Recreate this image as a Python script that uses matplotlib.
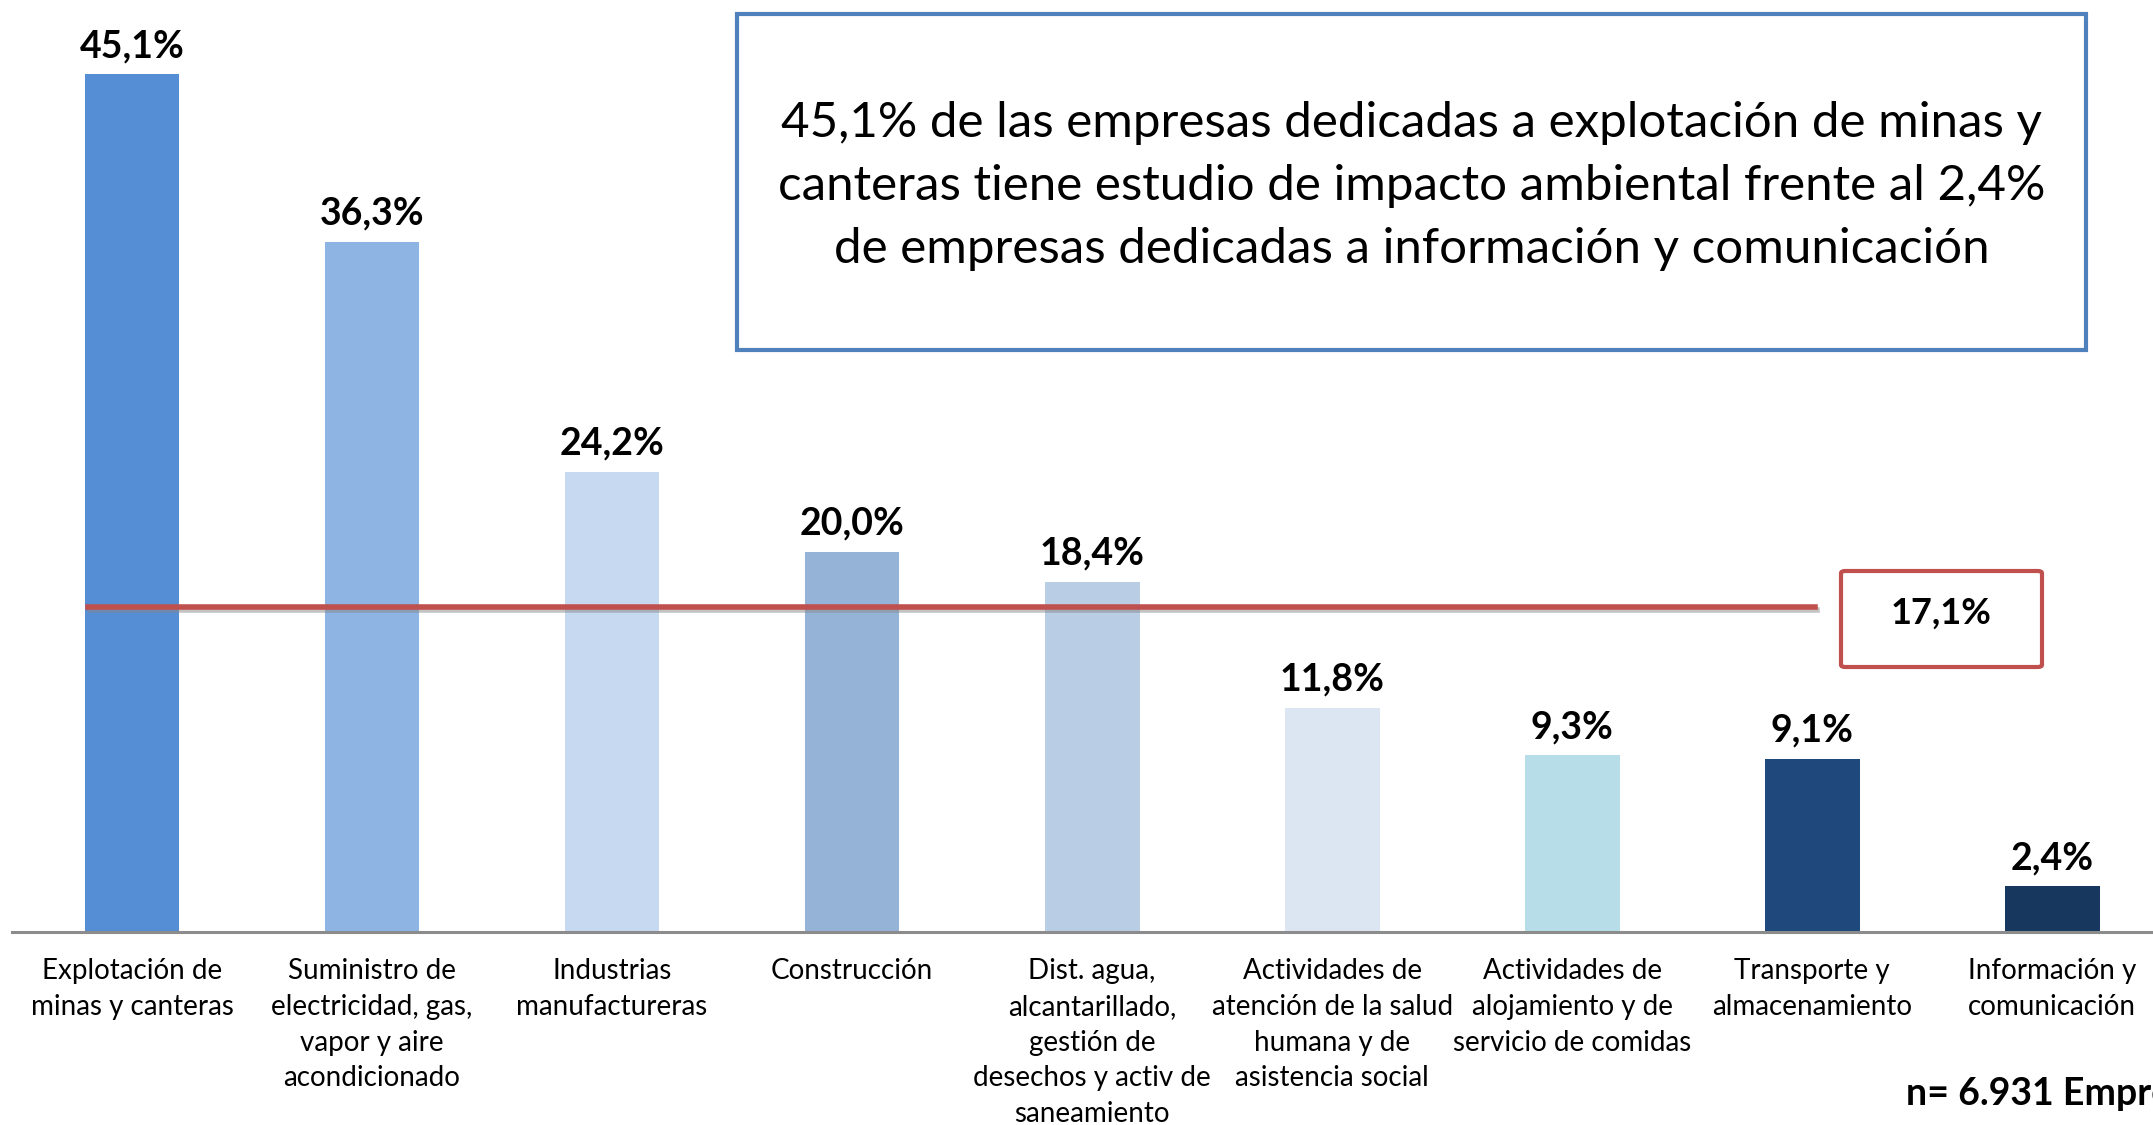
import matplotlib
matplotlib.use("Agg")
import matplotlib.pyplot as plt
from matplotlib.patches import Rectangle, FancyBboxPatch
import matplotlib.patheffects as pe

categories = [
    "Explotación de\nminas y canteras",
    "Suministro de\nelectricidad, gas,\nvapor y aire\nacondicionado",
    "Industrias\nmanufactureras",
    "Construcción",
    "Dist. agua,\nalcantarillado,\ngestión de\ndesechos y activ de\nsaneamiento",
    "Actividades de\natención de la salud\nhumana y de\nasistencia social",
    "Actividades de\nalojamiento y de\nservicio de comidas",
    "Transporte y\nalmacenamiento",
    "Información y\ncomunicación",
]
values = [45.1, 36.3, 24.2, 20.0, 18.4, 11.8, 9.3, 9.1, 2.4]
value_labels = ["45,1%", "36,3%", "24,2%", "20,0%", "18,4%", "11,8%", "9,3%", "9,1%", "2,4%"]
average = 17.1
average_label = "17,1%"
colors = ["#558ED5", "#8EB4E3", "#C6D9F1", "#95B3D7", "#B9CDE5",
          "#DCE6F2", "#B7DEE8", "#1F497D", "#17375E"]
box_text = ("45,1% de las empresas dedicadas a explotación de minas y\n"
            "canteras tiene estudio de impacto ambiental frente al 2,4%\n"
            "de empresas dedicadas a información y comunicación")
n_text = "n= 6.931 Empresas"

W, H = 2153, 1125
fig = plt.figure(figsize=(W / 100, H / 100), dpi=100)
fig.patch.set_facecolor("white")

left_px, right_px = 12, 2153
base_px, top_px = 932, 19
ax = fig.add_axes([left_px / W, (H - base_px) / H, (right_px - left_px) / W, (base_px - top_px) / H])

x = list(range(len(values)))
ax.bar(x, values, width=0.395, color=colors, zorder=2)
ax.set_xlim(-0.5, 8.42)
ax.set_ylim(0, 48)

for s in ["top", "right", "left"]:
    ax.spines[s].set_visible(False)
ax.spines["bottom"].set_color("#8C8C8C")
ax.spines["bottom"].set_linewidth(2.2)
ax.set_yticks([])
ax.set_xticks(x)
ax.set_xticklabels(categories, fontfamily="Lato", fontsize=20, linespacing=1.46,
                   color="#000000")
ax.tick_params(axis="x", length=0, pad=19)

for xi, v, lab in zip(x, values, value_labels):
    ax.annotate(lab, (xi, v), xytext=(0, 8), textcoords="offset points",
                ha="center", va="bottom", fontfamily="Lato", fontweight="bold",
                fontsize=27, color="#000000")

# average line with shadow
ax.axhline(average, xmin=(88 - left_px) / (right_px - left_px),
           xmax=(1815 - left_px) / (right_px - left_px),
           color="#C0504D", linewidth=4, zorder=3,
           path_effects=[pe.SimpleLineShadow(offset=(1.5, -2.5), shadow_color="#888888", alpha=0.5),
                         pe.Normal()])

# red box with average label
rx0, rx1, ry0, ry1 = 1841, 2042, 571, 667
rbox = FancyBboxPatch((rx0 / W, (H - ry1) / H), (rx1 - rx0) / W, (ry1 - ry0) / H,
                      boxstyle="round,pad=0,rounding_size=0.002",
                      transform=fig.transFigure, facecolor="white",
                      edgecolor="#C0504D", linewidth=3, zorder=1)
fig.patches.append(rbox)
fig.text((rx0 + rx1) / 2 / W, (H - 613) / H, average_label,
         ha="center", va="center", fontfamily="Lato", fontweight="bold",
         fontsize=26, color="#000000", zorder=10)

# blue text box
bx0, bx1, by0, by1 = 737, 2086, 14, 350
bbox = Rectangle((bx0 / W, (H - by1) / H), (bx1 - bx0) / W, (by1 - by0) / H,
                 transform=fig.transFigure, facecolor="white",
                 edgecolor="#4F81BD", linewidth=3, zorder=1)
fig.patches.append(bbox)
fig.text((bx0 + bx1) / 2 / W, (H - 186) / H, box_text,
         ha="center", va="center", fontfamily="Lato", fontsize=35.5,
         linespacing=1.52, color="#000000", zorder=10)

fig.text(1906 / W, (H - 1094) / H, n_text, ha="left", va="center",
         fontfamily="Lato", fontweight="bold", fontsize=27, color="#000000", zorder=10)

fig.savefig("out.png", dpi=100, facecolor="white")
